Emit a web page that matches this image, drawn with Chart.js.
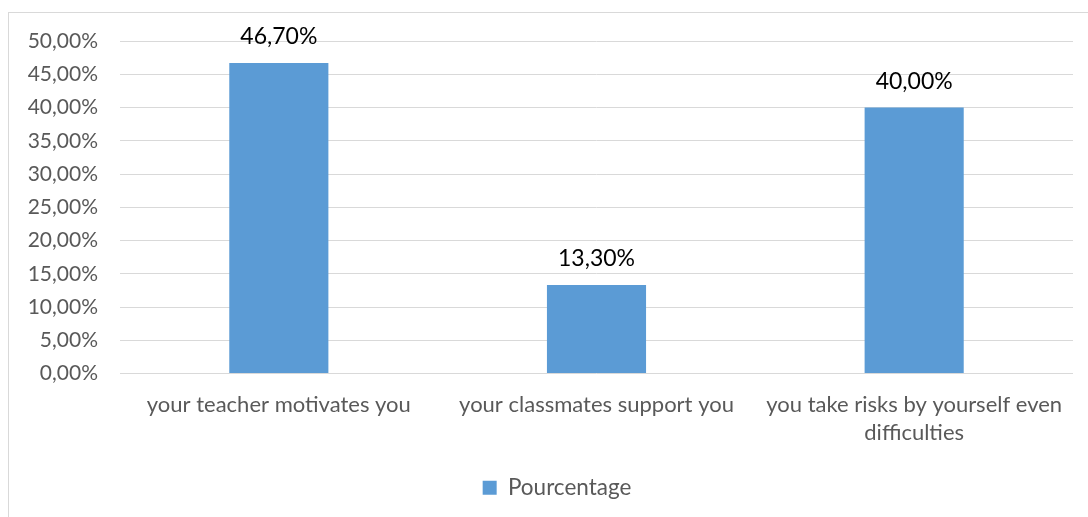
<!DOCTYPE html>
<html>
<head>
<meta charset="utf-8">
<script src="https://cdn.jsdelivr.net/npm/chart.js@4.4.1/dist/chart.umd.min.js"></script>
<style>
  html, body { margin: 0; padding: 0; background: #ffffff; }
  #wrap { width: 1088px; height: 517px; position: relative; }
</style>
</head>
<body>
<div id="wrap"><canvas id="c" width="1088" height="517"></canvas></div>
<script>
const categories = [
  'your teacher motivates you',
  'your classmates support you',
  ['you take risks by yourself even', 'difficulties']
];
const seriesName = 'Pourcentage';
const values = [46.7, 13.3, 40.0];
const yTicks = [0, 5, 10, 15, 20, 25, 30, 35, 40, 45, 50];

const FONT = 'Lato, "Open Sans", sans-serif';
const fmt = v => v.toFixed(2).replace('.', ',') + '%';

// light frame around the chart and white page
const framePlugin = {
  id: 'frame',
  beforeDraw(chart) {
    const ctx = chart.ctx;
    ctx.save();
    ctx.fillStyle = '#ffffff';
    ctx.fillRect(0, 0, chart.width, chart.height);
    ctx.strokeStyle = '#d9d9d9';
    ctx.lineWidth = 1;
    ctx.strokeRect(8.5, 12.5, chart.width + 20, chart.height + 20);
    ctx.restore();
  }
};

// nudge the legend so it sits a bit right of the page centre
const legendShift = {
  id: 'legendShift',
  afterLayout(chart) {
    if (chart.legend) chart.legend.left += 31;
  }
};

// value labels above each bar
const valueLabels = {
  id: 'valueLabels',
  afterDatasetsDraw(chart) {
    const ctx = chart.ctx;
    const meta = chart.getDatasetMeta(0);
    ctx.save();
    ctx.font = '23px ' + FONT;
    ctx.fillStyle = '#000000';
    ctx.textAlign = 'center';
    ctx.textBaseline = 'middle';
    meta.data.forEach((bar, i) => {
      ctx.fillText(fmt(values[i]), bar.x, bar.y - 26);
    });
    ctx.restore();
  }
};

new Chart(document.getElementById('c'), {
  type: 'bar',
  data: {
    labels: categories,
    datasets: [{
      label: seriesName,
      data: values,
      backgroundColor: '#5b9bd5',
      borderWidth: 0,
      barPercentage: 0.312,
      categoryPercentage: 1.0
    }]
  },
  options: {
    responsive: false,
    animation: false,
    devicePixelRatio: 1,
    layout: { padding: { top: 41, left: 10, right: 15, bottom: 8 } },
    plugins: {
      tooltip: { enabled: false },
      legend: {
        position: 'bottom',
        labels: {
          color: '#595959',
          font: { family: FONT, size: 22.5 },
          boxWidth: 14,
          boxHeight: 14,
          padding: 6
        }
      }
    },
    scales: {
      x: {
        grid: { display: false, drawTicks: false },
        border: { display: false },
        ticks: {
          color: '#595959',
          font: { family: FONT, size: 22, lineHeight: 1.27 },
          padding: 17,
          maxRotation: 0,
          autoSkip: false
        },
        afterFit(scale) { scale.height = 97; }
      },
      y: {
        min: 0,
        max: 50,
        afterBuildTicks(scale) { scale.ticks = yTicks.map(v => ({ value: v })); },
        grid: { color: '#d9d9d9', lineWidth: 1, drawTicks: false },
        border: { display: false },
        ticks: {
          color: '#595959',
          font: { family: FONT, size: 21 },
          padding: 22,
          callback: v => fmt(v)
        },
        afterFit(scale) { scale.width = 110; }
      }
    }
  },
  plugins: [framePlugin, legendShift, valueLabels]
});
</script>
</body>
</html>
